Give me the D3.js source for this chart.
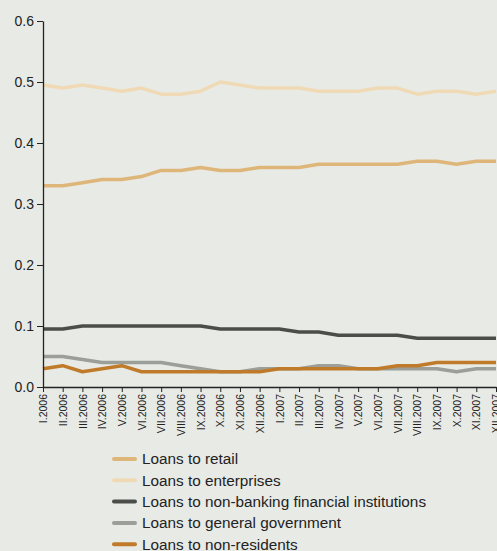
<!DOCTYPE html>
<html>
<head>
<meta charset="utf-8">
<script src="https://cdn.jsdelivr.net/npm/d3@7"></script>
<style>
  html, body { margin: 0; padding: 0; background: #e8eae6; }
  svg { display: block; font-family: "Liberation Sans", Arial, sans-serif; }
</style>
</head>
<body>
<svg id="chart" width="497" height="551"></svg>
<script>
// Month labels, Jan 2006 – Dec 2007
const months = [
  "I.2006","II.2006","III.2006","IV.2006","V.2006","VI.2006","VII.2006","VIII.2006",
  "IX.2006","X.2006","XI.2006","XII.2006","I.2007","II.2007","III.2007","IV.2007",
  "V.2007","VI.2007","VII.2007","VIII.2007","IX.2007","X.2007","XI.2007","XII.2007"
];

const yTicks = [0, 0.1, 0.2, 0.3, 0.4, 0.5, 0.6];

const seriesNames = [
  "Loans to retail",
  "Loans to enterprises",
  "Loans to non-banking financial institutions",
  "Loans to general government",
  "Loans to non-residents"
];

const retail = [0.330,0.330,0.335,0.340,0.340,0.345,0.355,0.355,0.360,0.355,0.355,0.360,
                0.360,0.360,0.365,0.365,0.365,0.365,0.365,0.370,0.370,0.365,0.370,0.370];
const enterprises = [0.495,0.490,0.495,0.490,0.485,0.490,0.480,0.480,0.485,0.500,0.495,0.490,
                     0.490,0.490,0.485,0.485,0.485,0.490,0.490,0.480,0.485,0.485,0.480,0.485];
const nonBanking = [0.095,0.095,0.100,0.100,0.100,0.100,0.100,0.100,0.100,0.095,0.095,0.095,
                    0.095,0.090,0.090,0.085,0.085,0.085,0.085,0.080,0.080,0.080,0.080,0.080];
const generalGov = [0.050,0.050,0.045,0.040,0.040,0.040,0.040,0.035,0.030,0.025,0.025,0.030,
                    0.030,0.030,0.035,0.035,0.030,0.030,0.030,0.030,0.030,0.025,0.030,0.030];
const nonResidents = [0.030,0.035,0.025,0.030,0.035,0.025,0.025,0.025,0.025,0.025,0.025,0.025,
                      0.030,0.030,0.030,0.030,0.030,0.030,0.035,0.035,0.040,0.040,0.040,0.040];

const colors = ["#dfb679", "#f0dab5", "#4b4e48", "#9b9f98", "#c07b2a"];
const values = [retail, enterprises, nonBanking, generalGov, nonResidents];

const svg = d3.select("#chart");
const x = d3.scalePoint().domain(months).range([43, 496]);
const y = d3.scaleLinear().domain([0, 0.6]).range([387, 21]);

// Lines (draw lower-priority series first)
const line = d3.line().x((d, i) => x(months[i])).y(d => y(d));
const drawOrder = [1, 0, 2, 3, 4];
drawOrder.forEach(k => {
  svg.append("path")
    .datum(values[k])
    .attr("fill", "none")
    .attr("stroke", colors[k])
    .attr("stroke-width", 3.5)
    .attr("stroke-linejoin", "round")
    .attr("d", line);
});

// Y axis
const yAxis = svg.append("g")
  .attr("transform", "translate(43,0)")
  .call(d3.axisLeft(y).tickValues(yTicks).tickFormat(d3.format(".1f")).tickSize(6).tickSizeOuter(0));
yAxis.select(".domain").attr("stroke", "#222").attr("stroke-width", 1.3);
yAxis.selectAll(".tick line").attr("stroke", "#222");
yAxis.selectAll(".tick text")
  .attr("font-size", 14)
  .attr("fill", "#222")
  .attr("x", -9)
  .attr("font-family", "Liberation Sans, Arial, sans-serif");

// X axis
const xAxis = svg.append("g")
  .attr("transform", "translate(0,387)")
  .call(d3.axisBottom(x).tickSize(5).tickSizeOuter(0));
xAxis.select(".domain").attr("stroke", "#222").attr("stroke-width", 1.3);
xAxis.selectAll(".tick line").attr("stroke", "#222");
xAxis.selectAll(".tick text")
  .attr("font-size", 10.5)
  .attr("fill", "#222")
  .attr("font-family", "Liberation Sans, Arial, sans-serif")
  .attr("text-anchor", "end")
  .attr("transform", "rotate(-90)")
  .attr("x", -7)
  .attr("y", 0)
  .attr("dy", "0.35em");

// Legend
const legend = svg.append("g").attr("transform", "translate(114,459)");
seriesNames.forEach((name, i) => {
  const g = legend.append("g").attr("transform", `translate(0,${i * 21.3})`);
  g.append("line")
    .attr("x1", 0).attr("x2", 21)
    .attr("y1", 0).attr("y2", 0)
    .attr("stroke", colors[i])
    .attr("stroke-width", 4)
    .attr("stroke-linecap", "round");
  g.append("text")
    .attr("x", 28)
    .attr("y", 0)
    .attr("dy", "0.35em")
    .attr("font-size", 15.3)
    .attr("fill", "#222")
    .text(name);
});
</script>
</body>
</html>
